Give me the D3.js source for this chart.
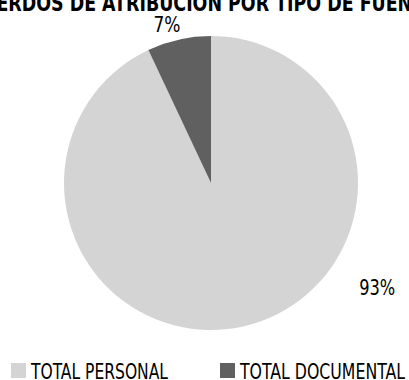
<!DOCTYPE html>
<html>
<head>
<meta charset="utf-8">
<script src="https://cdn.jsdelivr.net/npm/d3@7"></script>
<style>
  body { margin: 0; background: #fff; }
  text { font-family: "Liberation Sans Narrow", "DejaVu Sans Condensed", sans-serif; font-stretch: condensed; fill: #000; }
</style>
</head>
<body>
<svg width="409" height="380"></svg>
<script>
// data
const categories = ["TOTAL PERSONAL", "TOTAL DOCUMENTAL"];
const values = [93, 7];
const colors = ["#d4d4d4", "#606060"];
const title = "ACUERDOS DE ATRIBUCIÓN POR TIPO DE FUENTE";

const svg = d3.select("svg");
const cx = 211, cy = 183, radius = 147;

// title, cut off at the top like the original; squeezed to mimic the condensed face
svg.append("text")
    .attr("x", -44)
    .attr("y", 11)
    .attr("font-size", 23)
    .attr("font-weight", "bold")
    .attr("textLength", 480)
    .attr("lengthAdjust", "spacingAndGlyphs")
    .text(title);

const pie = d3.pie().sort(null).value(d => d);
const arcs = pie(values);
const arc = d3.arc().innerRadius(0).outerRadius(radius);

const g = svg.append("g").attr("transform", `translate(${cx},${cy})`);

g.selectAll("path")
    .data(arcs)
    .enter()
    .append("path")
    .attr("d", arc)
    .attr("fill", (d, i) => colors[i]);

// label placement (angle in degrees from 12 o'clock, distance from centre)
const labelPos = [{angle: 122, r: 196}, {angle: 344.5, r: 165}];

g.selectAll("text.label")
    .data(arcs)
    .enter()
    .append("text")
    .attr("class", "label")
    .attr("transform", (d, i) => {
        const a = labelPos[i].angle * Math.PI / 180;
        return `translate(${Math.sin(a) * labelPos[i].r},${-Math.cos(a) * labelPos[i].r})`;
    })
    .attr("text-anchor", "middle")
    .attr("dy", "0.35em")
    .attr("font-size", 22)
    .attr("textLength", (d, i) => i === 0 ? 36 : 27)
    .attr("lengthAdjust", "spacingAndGlyphs")
    .text(d => Math.round(d.data) + "%");

// legend
const legendX = d3.scaleOrdinal().domain(categories).range([11, 220]);
const textWidths = [137, 165];
const legend = svg.selectAll("g.legend")
    .data(categories)
    .enter()
    .append("g")
    .attr("class", "legend")
    .attr("transform", d => `translate(${legendX(d)},363)`);

legend.append("rect")
    .attr("width", 15)
    .attr("height", 15)
    .attr("fill", (d, i) => colors[i]);

legend.append("text")
    .attr("x", 20)
    .attr("y", 16)
    .attr("font-size", 22)
    .attr("textLength", (d, i) => textWidths[i])
    .attr("lengthAdjust", "spacingAndGlyphs")
    .text(d => d);
</script>
</body>
</html>
